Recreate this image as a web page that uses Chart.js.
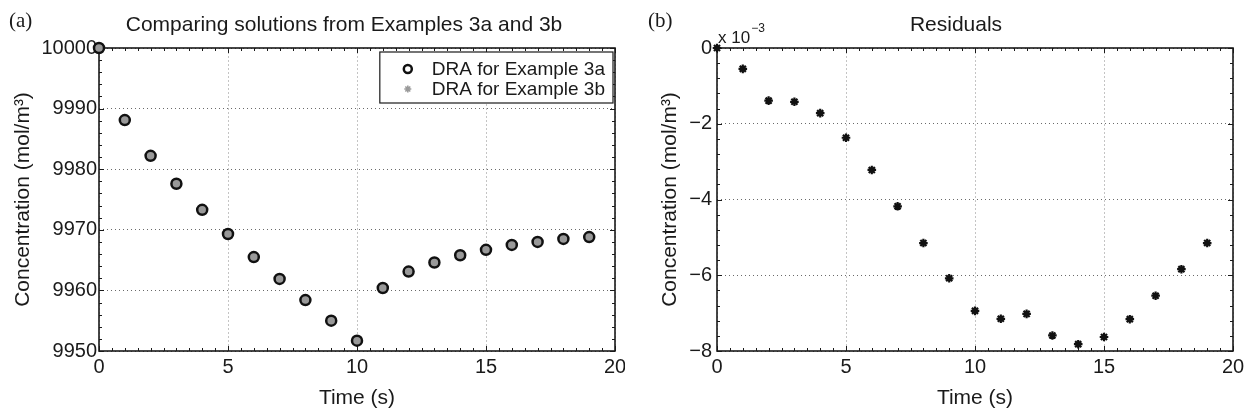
<!DOCTYPE html>
<html>
<head>
<meta charset="utf-8">
<script src="https://cdn.jsdelivr.net/npm/chart.js@4.4.1/dist/chart.umd.min.js"></script>
<style>
  html, body { margin: 0; padding: 0; background: #fff; }
  .panel { position: absolute; top: 0; width: 625px; height: 417px; }
  #panelA { left: 0; }
  #panelB { left: 625px; }
</style>
</head>
<body>
<div class="panel" id="panelA"><canvas id="chartA"></canvas></div>
<div class="panel" id="panelB"><canvas id="chartB"></canvas></div>
<script>
// time axis (s)
const timeSec = [0, 1, 2, 3, 4, 5, 6, 7, 8, 9, 10, 11, 12, 13, 14, 15, 16, 17, 18, 19]

// concentration (mol/m3)
const draExample3a = [10000, 9988.1, 9982.2, 9977.6, 9973.3, 9969.3, 9965.5, 9961.9, 9958.4, 9955.0,
  9951.7, 9960.4, 9963.1, 9964.6, 9965.8, 9966.7, 9967.5, 9968.0, 9968.5, 9968.8]
const draExample3b = [10000, 9988.1, 9982.2, 9977.6, 9973.3, 9969.3, 9965.5, 9961.9, 9958.4, 9955.0,
  9951.7, 9960.4, 9963.1, 9964.6, 9965.8, 9966.7, 9967.5, 9968.0, 9968.5, 9968.8]

// residuals, in units of 1e-3 mol/m3
const residualsMilli = [0, -0.55, -1.39, -1.42, -1.72, -2.37, -3.22, -4.18, -5.15, -6.08,
  -6.94, -7.15, -7.02, -7.59, -7.82, -7.63, -7.16, -6.54, -5.84, -5.15]

const legendLabels = ['DRA for Example 3a', 'DRA for Example 3b']

const SANS = "'Liberation Sans', Arial, Helvetica, sans-serif"
const SERIF = "'Liberation Serif', 'Times New Roman', serif"
const INK = '#1a1a1a'

function toXY(xs, ys) {
  return xs.map((x, i) => ({ x, y: ys[i] }))
}

// MATLAB style box with inward ticks on all four sides
const matlabFrame = {
  id: 'matlabFrame',
  beforeDatasetsDraw(chart, args, opts) {
    const { ctx, chartArea: a } = chart
    const { x, y } = chart.scales
    ctx.save()
    ctx.strokeStyle = INK
    ctx.lineWidth = 1
    const seg = (x1, y1, x2, y2) => {
      ctx.beginPath()
      ctx.moveTo(x1, y1)
      ctx.lineTo(x2, y2)
      ctx.stroke()
    }
    const isMajor = (v, major) => Math.abs(v / major - Math.round(v / major)) < 1e-6
    let n = Math.round((x.max - x.min) / opts.xMinor)
    for (let i = 0; i <= n; i++) {
      const v = x.min + i * opts.xMinor
      const px = Math.round(x.getPixelForValue(v)) + 0.5
      const len = isMajor(v, opts.xMajor) ? 5 : 3
      seg(px, a.bottom, px, a.bottom - len)
      seg(px, a.top, px, a.top + len)
    }
    n = Math.round((y.max - y.min) / opts.yMinor)
    for (let i = 0; i <= n; i++) {
      const v = y.min + i * opts.yMinor
      const py = Math.round(y.getPixelForValue(v)) + 0.5
      const len = isMajor(v - y.min, opts.yMajor) ? 5 : 3
      seg(a.left, py, a.left + len, py)
      seg(a.right, py, a.right - len, py)
    }
    ctx.lineWidth = 1.6
    ctx.strokeRect(a.left, a.top, a.right - a.left, a.bottom - a.top)
    ctx.restore()
  },
  afterDraw(chart, args, opts) {
    const { ctx, chartArea: a } = chart
    ctx.save()
    ctx.fillStyle = INK
    ctx.textBaseline = 'alphabetic'

    // panel letter
    ctx.font = '21px ' + SERIF
    ctx.textAlign = 'left'
    ctx.fillText(opts.letter, opts.letterX, 27)

    // title
    ctx.font = '21px ' + SANS
    ctx.textAlign = 'center'
    ctx.fillText(opts.title, (a.left + a.right) / 2 + opts.titleShift, 31)

    // axis multiplier
    if (opts.exponent) {
      ctx.textAlign = 'left'
      ctx.font = '17px ' + SANS
      ctx.fillText('x 10', a.left + 1, 43)
      const w = ctx.measureText('x 10').width
      ctx.font = '12px ' + SANS
      ctx.fillText(opts.exponent, a.left + 2 + w, 32)
    }

    // legend box inside the axes
    if (opts.legend) {
      ctx.font = '19px ' + SANS
      const tw = Math.max(...opts.legend.map((l) => ctx.measureText(l.text).width))
      const w = 52 + tw + 8
      const h = 51
      const left = a.right - 2 - w
      const top = a.top + 4
      ctx.fillStyle = '#fff'
      ctx.fillRect(left, top, w, h)
      ctx.strokeStyle = INK
      ctx.lineWidth = 1.2
      ctx.strokeRect(left, top, w, h)
      opts.legend.forEach((l, i) => {
        const cy = top + 17 + i * 20
        const cx = left + 28
        ctx.save()
        if (l.style === 'circle') {
          ctx.strokeStyle = '#111'
          ctx.lineWidth = 2.5
          ctx.beginPath()
          ctx.arc(cx, cy, 4, 0, Math.PI * 2)
          ctx.stroke()
        } else {
          ctx.strokeStyle = '#9a9a9a'
          ctx.lineWidth = 1.6
          const r = 3.5
          ctx.beginPath()
          ctx.moveTo(cx - r, cy); ctx.lineTo(cx + r, cy)
          ctx.moveTo(cx, cy - r); ctx.lineTo(cx, cy + r)
          ctx.moveTo(cx - r * 0.7, cy - r * 0.7); ctx.lineTo(cx + r * 0.7, cy + r * 0.7)
          ctx.moveTo(cx - r * 0.7, cy + r * 0.7); ctx.lineTo(cx + r * 0.7, cy - r * 0.7)
          ctx.stroke()
        }
        ctx.restore()
        ctx.fillStyle = INK
        ctx.textAlign = 'left'
        ctx.textBaseline = 'middle'
        ctx.fillText(l.text, left + 52, cy + 1)
      })
    }
    ctx.restore()
  }
}

function makeScales(p) {
  return {
    x: {
      type: 'linear',
      min: 0,
      max: 20,
      ticks: { stepSize: 5, color: INK, font: { family: SANS, size: 20 }, padding: 4, maxRotation: 0 },
      grid: { color: '#c4c4c4', lineWidth: 1, drawTicks: false },
      border: { display: false, dash: [2, 2] },
      title: {
        display: true,
        text: 'Time (s)',
        color: INK,
        font: { family: SANS, size: 21 },
        padding: { top: 0, bottom: 6 }
      },
      afterFit: (s) => {
        s.height = 66
        s.paddingLeft = 0
        s.paddingRight = 0
      }
    },
    y: {
      type: 'linear',
      min: p.yMin,
      max: p.yMax,
      ticks: {
        stepSize: p.yStep,
        color: INK,
        font: { family: SANS, size: 20 },
        padding: p.tickPad,
        callback: (v) => (v < 0 ? '\u2212' + Math.abs(v) : String(v))
      },
      grid: { color: '#6a6a6a', lineWidth: 1, drawTicks: false },
      border: { display: false, dash: [1, 3] },
      title: {
        display: true,
        text: 'Concentration (mol/m\u00b3)',
        color: INK,
        font: { family: SANS, size: 21 },
        padding: { top: p.yTitlePad, bottom: 0 }
      },
      afterFit: (s) => { s.width = p.yWidth }
    }
  }
}

new Chart(document.getElementById('chartA'), {
  type: 'scatter',
  data: {
    datasets: [
      {
        label: legendLabels[0],
        data: toXY(timeSec, draExample3a),
        pointStyle: 'circle',
        pointRadius: 5,
        pointBorderWidth: 2.5,
        pointBorderColor: '#111',
        pointBackgroundColor: 'rgba(0,0,0,0)',
        clip: false
      },
      {
        label: legendLabels[1],
        data: toXY(timeSec, draExample3b),
        pointStyle: 'star',
        pointRadius: 4.5,
        pointBorderWidth: 4,
        pointBorderColor: '#999',
        pointBackgroundColor: '#999',
        clip: false
      }
    ]
  },
  options: {
    responsive: true,
    maintainAspectRatio: false,
    animation: false,
    layout: { padding: { top: 48, right: 10, left: 0, bottom: 0 } },
    scales: makeScales({ yMin: 9950, yMax: 10000, yStep: 10, tickPad: 2, yTitlePad: 11, yWidth: 99 }),
    plugins: {
      legend: { display: false },
      tooltip: { enabled: false },
      matlabFrame: {
        xMajor: 5, xMinor: 0.5, yMajor: 10, yMinor: 2,
        letter: '(a)', letterX: 9,
        title: 'Comparing solutions from Examples 3a and 3b', titleShift: -13,
        legend: [
          { text: legendLabels[0], style: 'circle' },
          { text: legendLabels[1], style: 'star' }
        ]
      }
    }
  },
  plugins: [matlabFrame]
})

new Chart(document.getElementById('chartB'), {
  type: 'scatter',
  data: {
    datasets: [
      {
        label: 'Residuals',
        data: toXY(timeSec, residualsMilli),
        pointStyle: 'star',
        pointRadius: 4.3,
        pointBorderWidth: 2.2,
        pointBorderColor: '#111',
        pointBackgroundColor: '#111',
        clip: false
      }
    ]
  },
  options: {
    responsive: true,
    maintainAspectRatio: false,
    animation: false,
    layout: { padding: { top: 48, right: 17, left: 0, bottom: 0 } },
    scales: makeScales({ yMin: -8, yMax: 0, yStep: 2, tickPad: 5, yTitlePad: 33, yWidth: 92 }),
    plugins: {
      legend: { display: false },
      tooltip: { enabled: false },
      matlabFrame: {
        xMajor: 5, xMinor: 0.5, yMajor: 2, yMinor: 0.4,
        letter: '(b)', letterX: 23,
        title: 'Residuals', titleShift: -19,
        exponent: '\u22123'
      }
    }
  },
  plugins: [matlabFrame]
})
</script>
</body>
</html>
